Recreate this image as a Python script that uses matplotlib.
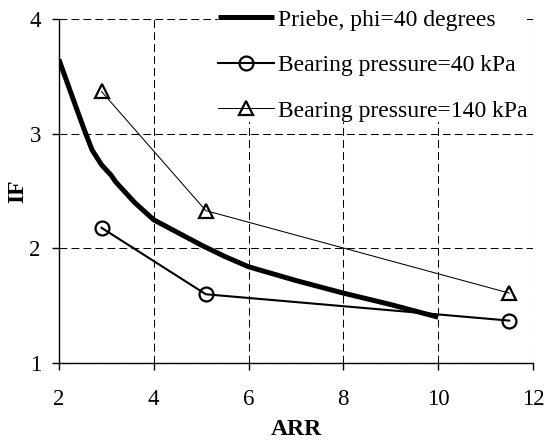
import numpy as np
import matplotlib.pyplot as plt

# Priebe design curve
priebe_arr = [2.0, 2.2, 2.4, 2.55, 2.7, 2.9, 3.1, 3.2, 3.6, 4.0, 4.5, 5.0, 5.5, 6.0, 7.0, 8.0, 9.0, 10.0]
priebe_if = [3.65, 3.42, 3.19, 3.02, 2.86, 2.73, 2.64, 2.58, 2.40, 2.25, 2.14, 2.03, 1.93, 1.84, 1.72, 1.61, 1.51, 1.40]

# Measured improvement factors
arr_40 = [2.9, 5.1, 11.5]
if_40 = [2.18, 1.60, 1.37]

arr_140 = [2.9, 5.1, 11.5]
if_140 = [3.37, 2.33, 1.61]

plt.rcParams['font.family'] = ['Liberation Serif', 'DejaVu Serif']

fig = plt.figure(figsize=(5.45, 4.43), dpi=100)
ax = fig.add_axes([0.108, 0.1806, 0.870, 0.7758])

ax.plot(priebe_arr, priebe_if, color='black', lw=3.6, solid_capstyle='butt',
        solid_joinstyle='round', label='Priebe, phi=40 degrees')
ax.plot(arr_40, if_40, color='black', lw=1.5, marker='o', ms=10,
        mfc='none', mew=1.6, label='Bearing pressure=40 kPa')
ax.plot(arr_140, if_140, color='black', lw=0.75, marker='^', ms=10,
        mfc='none', mew=1.6, label='Bearing pressure=140 kPa')

ax.set_xlim(2, 12)
ax.set_ylim(1, 4)
ax.set_xticks([2, 4, 6, 8, 10, 12])
ax.set_yticks([1, 2, 3, 4])
ax.grid(True, color='black', lw=0.75, linestyle=(0, (7.5, 4)))
ax.set_axisbelow(True)

for s in ['top', 'right']:
    ax.spines[s].set_visible(False)
for s in ['left', 'bottom']:
    ax.spines[s].set_linewidth(1.0)

ax.tick_params(direction='out', length=5, width=1.0, labelsize=16.5)
ax.tick_params(axis='x', pad=14)
ax.tick_params(axis='y', pad=8)

ax.set_xlabel('ARR', fontsize=17, fontweight='bold', labelpad=6)
ax.set_ylabel('IF', fontsize=17, fontweight='bold', labelpad=1)

leg = ax.legend(loc='upper left', bbox_to_anchor=(0.335, 1.03), fontsize=17,
                frameon=True, framealpha=1, edgecolor='none', fancybox=False,
                borderpad=0.0, handlelength=2.37, handletextpad=0.17,
                labelspacing=1.02, borderaxespad=0)
leg.get_frame().set_facecolor('white')

fig.savefig('out.png', dpi=100)
